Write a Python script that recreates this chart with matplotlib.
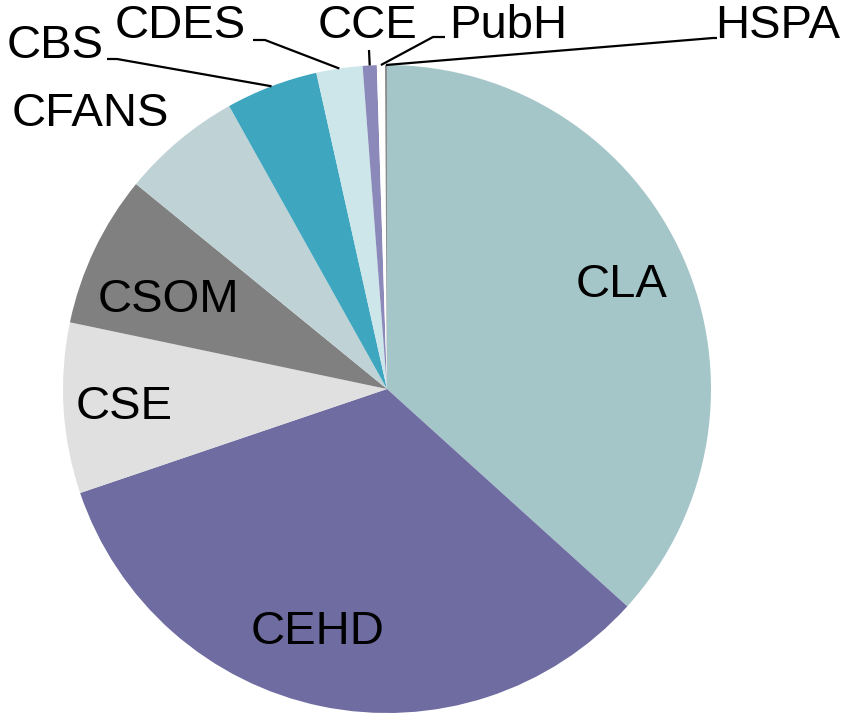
import numpy as np
import matplotlib
matplotlib.use("Agg")
import matplotlib.pyplot as plt

plt.rcParams['font.family'] = ['Liberation Sans', 'DejaVu Sans']

colleges = ["CLA", "CEHD", "CSE", "CSOM", "CFANS", "CBS", "CDES", "CCE", "PubH", "HSPA"]
shares = [36.7, 33.1, 8.5, 7.6, 6.0, 4.6, 2.3, 0.7, 0.4, 0.1]
colors = ["#A5C6C9", "#6E6CA1", "#E0E0E0", "#808080", "#BFD2D5",
          "#3FA6BF", "#CCE6EA", "#8A89B9", "#FFFFFF", "#8C8C8C"]

W, H = 851, 713
fig = plt.figure(figsize=(W / 100, H / 100), dpi=100)
ax = fig.add_axes([0, 0, 1, 1])

cx, cy, r = 387, H - 389, 324
wedges, _ = ax.pie(shares, colors=colors, startangle=90, counterclock=False,
                   center=(cx, cy), radius=r, frame=True,
                   wedgeprops=dict(linewidth=0))
ax.set_xlim(0, W)
ax.set_ylim(0, H)
ax.set_aspect("equal")
ax.axis("off")

fs = 34

# labels inside the pie
inside = {"CLA": (622, 285), "CEHD": (318, 632), "CSE": (124, 407), "CSOM": (168, 300)}
for name, (x, y) in inside.items():
    ax.text(x, H - y, name, fontsize=fs, ha="center", va="center")

# labels outside with leader lines (label pos, elbow pos)
outside = {
    "CFANS": ((90, 114), None),
    "CBS": ((55, 46), [(107, 59), (117, 59)]),
    "CDES": ((180, 26), [(253, 40), (265, 40)]),
    "CCE": ((368, 26), [(369, 50)]),
    "PubH": ((508, 26), [(445, 37), (433, 37)]),
    "HSPA": ((778, 26), [(717, 38), (713, 38)]),
}
for name, ((x, y), elbow) in outside.items():
    ax.text(x, H - y, name, fontsize=fs, ha="center", va="center")
    if elbow is None:
        continue
    w = wedges[colleges.index(name)]
    mid = np.deg2rad((w.theta1 + w.theta2) / 2)
    ex, ey = cx + r * np.cos(mid), cy + r * np.sin(mid)
    xs = [p[0] for p in elbow] + [ex]
    ys = [H - p[1] for p in elbow] + [ey]
    ax.plot(xs, ys, color="black", lw=1.6, solid_capstyle="butt")

fig.savefig("out.png", dpi=100)
